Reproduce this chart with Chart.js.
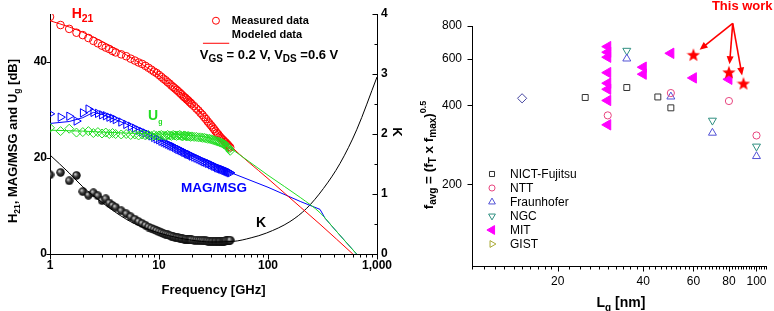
<!DOCTYPE html>
<html>
<head>
<meta charset="utf-8">
<script src="https://cdn.jsdelivr.net/npm/chart.js@4.4.1/dist/chart.umd.min.js"></script>
<style>
  html, body { margin: 0; padding: 0; background: #fff; }
  #wrap { position: relative; width: 774px; height: 311px; overflow: hidden; }
  canvas { position: absolute; top: 0; }
  #gain { left: 0; }
  #bench { left: 400px; }
</style>
</head>
<body>
<div id="wrap">
  <canvas id="gain" width="410" height="311"></canvas>
  <canvas id="bench" width="374" height="311"></canvas>
</div>
<script>
// ---- left panel: gains and K vs frequency ----
const freqMeas = [1,1.25,1.5,1.75,2,2.25,2.5,2.75,3,3.25,3.5,3.75,4,
  4.5,5,5.5,6,6.5,7,7.5,8,8.5,9,9.5,10,
  10.5,11,11.5,12,12.5,13,13.5,14,14.5,15,15.5,16,16.5,17,17.5,18,18.5,19,19.5,20,
  21,22,23,24,25,26,27,28,29,30,31,32,33,34,35,36,37,38,39,40,41,42,43,44,45];
const h21Meas = [49.4,47.7,46.9,46.1,45.6,45.0,44.4,43.9,43.4,43.0,42.7,42.3,42.0,
  41.6,41.2,40.7,40.3,39.9,39.6,39.2,38.8,38.4,38.0,37.7,37.3,
  36.9,36.5,36.2,35.8,35.5,35.1,34.8,34.5,34.2,33.9,33.6,33.3,33.0,32.7,32.5,32.2,32.0,31.7,31.5,31.2,
  30.8,30.3,29.9,29.4,29.0,28.5,28.1,27.6,27.2,26.8,26.4,26.0,25.6,25.2,24.9,24.5,24.2,23.9,23.7,23.4,23.2,22.9,22.7,22.4,22.2];
const magMeas = [29.2,28.5,28.7,27.7,29.4,30.2,29.5,29.3,29.0,28.8,28.5,28.3,28.0,
  27.5,27.0,26.6,26.2,25.8,25.5,25.2,24.9,24.6,24.3,24.0,23.8,
  23.5,23.3,23.1,22.9,22.7,22.5,22.4,22.2,22.0,21.8,21.7,21.5,21.4,21.2,21.1,20.9,20.8,20.7,20.6,20.4,
  20.2,20.0,19.8,19.6,19.4,19.2,19.1,18.9,18.8,18.6,18.5,18.3,18.2,18.0,17.9,17.8,17.7,17.6,17.5,17.4,17.3,17.2,17.1,17.0,16.9];
const ugMeas = [26.3,25.6,26.1,25.3,25.4,25.6,25.2,25.4,25.1,25.3,25.0,25.2,25.0,
  24.9,25.0,24.8,24.9,24.7,24.9,24.7,24.8,24.6,24.8,24.6,24.7,
  24.8,24.7,24.6,24.8,24.7,24.6,24.8,24.7,24.6,24.7,24.8,24.6,24.5,24.7,24.6,24.5,24.6,24.5,24.4,24.5,
  24.4,24.4,24.3,24.3,24.2,24.2,24.1,24.0,24.0,23.9,23.8,23.7,23.6,23.5,23.4,23.3,23.2,23.1,22.9,22.8,22.6,22.4,22.2,21.9,21.5];
const kMeas = [1.32,1.36,1.22,1.31,1.04,0.98,1.02,0.97,0.89,0.92,0.85,0.81,0.78,
  0.72,0.67,0.62,0.58,0.54,0.51,0.48,0.45,0.43,0.41,0.39,0.37,
  0.355,0.34,0.33,0.32,0.31,0.30,0.29,0.28,0.275,0.27,0.265,0.26,0.255,0.25,0.247,0.245,0.242,0.24,0.237,0.235,
  0.232,0.23,0.227,0.225,0.222,0.22,0.217,0.215,0.212,0.21,0.21,0.21,0.21,0.21,0.21,0.21,0.21,0.21,0.212,0.215,0.217,0.22,0.222,0.225,0.23];

const h21ModF = [1,1.5,2,3,5,7,10,15,20,30,45,100,200,300,600];
const h21Mod  = [48.6,47.3,46.2,44.3,41.5,39.5,37.2,34.0,31.4,27.0,22.6,15.7,9.7,6.2,0];
const magModF = [1,1.5,2,2.5,3,5,10,20,45,100,200,300,335,400,500,650];
const magMod  = [27.2,27.6,28.4,29.5,29.1,27.1,23.8,20.5,17.0,13.9,10.9,9.3,7.4,5.4,2.9,0];
const ugModF  = [1,2,3,5,10,20,30,40,45,100,200,300,400,500,650];
const ugMod   = [25.8,25.6,25.4,25.2,25.0,24.7,24.1,22.9,22.1,16.4,11.7,8.6,5.4,2.9,0];
const kModF   = [1,1.5,2,3,5,7,10,15,20,30,48,70,97,159,226,322,458,651,1000];
const kMod    = [1.65,1.35,1.12,0.86,0.58,0.45,0.35,0.27,0.23,0.2,0.21,0.27,0.35,0.54,0.76,1.09,1.51,2.07,2.95];

const freqMajor = [1, 10, 100, 1000];
const freqLabels = ['1', '10', '100', '1,000'];
const dbTicks = [0, 20, 40];
const kTicks = [0, 0.5, 1, 1.5, 2, 2.5, 3, 3.5, 4];
const kLabels = [0, 1, 2, 3, 4];

// ---- right panel: f_avg vs gate length ----
const nictL = [25, 35, 45, 50];
const nictF = [428, 467, 430, 391];
const nttL = [30, 50, 80, 100];
const nttF = [366, 445, 415, 307];
const fraunL = [35, 50, 70, 100];
const fraunF = [601, 431, 314, 256];
const ngcL = [35, 70, 100];
const ngcF = [645, 350, 279];
const mitL = [30, 30, 30, 30, 30, 30, 30, 30, 40, 40, 50, 60, 80];
const mitF = [668, 636, 609, 532, 485, 460, 417, 337, 558, 525, 630, 508, 502];
const gistL = [];
const gistF = [];
const otherL = [15];
const otherF = [425];
const thisWorkL = [60, 80, 90];
const thisWorkF = [622, 534, 484];
const favgTicks = [200, 400, 600, 800];
const lenLabels = [20, 40, 60, 80, 100];

const FONT = "'Liberation Sans', Arial, sans-serif";
Chart.defaults.font.family = FONT;
Chart.defaults.color = '#000';

const RED = '#ff0000', BLUE = '#0000ff', GREEN = '#22dd22';

function xy(xs, ys) { return xs.map((x, i) => ({ x: x, y: ys[i] })); }

function drawRich(ctx, parts, x, y, align, weight, color) {
  let w = 0;
  parts.forEach(p => { ctx.font = weight + ' ' + p[1] + 'px ' + FONT; w += ctx.measureText(p[0]).width; });
  let cx = align === 'center' ? x - w / 2 : x;
  ctx.fillStyle = color;
  ctx.textAlign = 'left';
  ctx.textBaseline = 'alphabetic';
  parts.forEach(p => {
    ctx.font = weight + ' ' + p[1] + 'px ' + FONT;
    ctx.fillText(p[0], cx, y + (p[2] || 0));
    cx += ctx.measureText(p[0]).width;
  });
}

function makeBall(d) {
  const c = document.createElement('canvas');
  c.width = c.height = d;
  const g = c.getContext('2d');
  const grad = g.createRadialGradient(d * 0.35, d * 0.35, 0.4, d / 2, d / 2, d / 2);
  grad.addColorStop(0, '#c8c8c8');
  grad.addColorStop(0.45, '#3a3a3a');
  grad.addColorStop(1, '#000');
  g.fillStyle = grad;
  g.beginPath(); g.arc(d / 2, d / 2, d / 2 - 0.3, 0, Math.PI * 2); g.fill();
  return c;
}

function makeStar(d, color) {
  const c = document.createElement('canvas');
  c.width = c.height = d;
  const g = c.getContext('2d');
  g.fillStyle = color;
  g.beginPath();
  for (let i = 0; i < 10; i++) {
    const r = i % 2 ? d * 0.21 : d / 2;
    const a = -Math.PI / 2 + i * Math.PI / 5;
    g.lineTo(d / 2 + r * Math.cos(a), d / 2 + 0.6 + r * Math.sin(a));
  }
  g.closePath(); g.fill();
  return c;
}

// draws own tick marks: long for majors, short for minors
const tickMarks = {
  id: 'tickMarks',
  afterDraw(chart, args, opts) {
    const ctx = chart.ctx;
    ctx.save();
    ctx.strokeStyle = '#000';
    ctx.lineWidth = 1;
    Object.keys(opts).forEach(id => {
      const s = chart.scales[id], o = opts[id];
      if (!s) return;
      s.ticks.forEach(t => {
        const len = o.major.includes(t.value) ? o.long : o.short;
        const p = Math.round(s.getPixelForValue(t.value)) + 0.5;
        ctx.beginPath();
        if (s.isHorizontal()) {
          const ay = Math.round(s.top) + 0.5;
          ctx.moveTo(p, ay); ctx.lineTo(p, ay + len * o.dir);
        } else {
          const ax = Math.round(s.position === 'left' ? s.right : s.left) + 0.5;
          ctx.moveTo(ax, p); ctx.lineTo(ax + len * o.dir, p);
        }
        ctx.stroke();
      });
    });
    ctx.restore();
  }
};

const freqTicks = [];
for (let d = 1; d < 1000; d *= 10) for (let m = 1; m < 10; m++) freqTicks.push(m * d);
freqTicks.push(1000);

const hidden = 'rgba(0,0,0,0)';
const ball = makeBall(9);

const gainLabels = {
  id: 'gainLabels',
  afterDraw(chart) {
    const ctx = chart.ctx, xs = chart.scales.x, ys = chart.scales.y, a = chart.chartArea;
    const P = (f, v) => [xs.getPixelForValue(f), ys.getPixelForValue(v)];
    ctx.save();
    let p = P(1.58, 49.2);
    drawRich(ctx, [['H', 14], ['21', 10.5, 4]], p[0], p[1], 'left', 'bold', RED);
    // legend
    p = P(33.3, 48.6);
    ctx.strokeStyle = RED; ctx.lineWidth = 1;
    ctx.beginPath(); ctx.arc(p[0], p[1], 3.5, 0, Math.PI * 2); ctx.stroke();
    const l1 = P(25.3, 43.9), l2 = P(44.1, 43.9);
    ctx.beginPath(); ctx.moveTo(l1[0], l1[1]); ctx.lineTo(l2[0], l2[1]); ctx.stroke();
    p = P(46.6, 47.9);
    drawRich(ctx, [['Measured data', 11]], p[0], p[1], 'left', 'bold', '#000');
    p = P(46.6, 45.0);
    drawRich(ctx, [['Modeled data', 11]], p[0], p[1], 'left', 'bold', '#000');
    p = P(23.7, 40.6);
    drawRich(ctx, [['V', 13], ['GS', 10, 3], [' = 0.2 V, V', 13], ['DS', 10, 3], [' =0.6 V', 13]], p[0], p[1], 'left', 'bold', '#000');
    p = P(7.93, 27.9);
    drawRich(ctx, [['U', 14], ['g', 7, 4]], p[0], p[1], 'left', 'bold', GREEN);
    p = P(15.9, 12.9);
    drawRich(ctx, [['MAG/MSG', 13.5]], p[0], p[1], 'left', 'bold', BLUE);
    p = P(77.7, 5.6);
    drawRich(ctx, [['K', 14]], p[0], p[1], 'left', 'bold', '#000');
    // axis titles
    drawRich(ctx, [['Frequency [GHz]', 13]], (a.left + a.right) / 2, 294, 'center', 'bold', '#000');
    ctx.save();
    ctx.translate(17, (a.top + a.bottom) / 2 + 7);
    ctx.rotate(-Math.PI / 2);
    drawRich(ctx, [['H', 13], ['21', 8.5, 3], [', MAG/MSG and U', 13], ['g', 8.5, 3], [' [dB]', 13]], 0, 0, 'center', 'bold', '#000');
    ctx.restore();
    ctx.save();
    ctx.translate(393, 132);
    ctx.rotate(Math.PI / 2);
    drawRich(ctx, [['K', 13]], 0, 0, 'center', 'bold', '#000');
    ctx.restore();
    ctx.restore();
  }
};

new Chart(document.getElementById('gain'), {
  type: 'scatter',
  data: {
    datasets: [
      { label: 'Ug meas', data: xy(freqMeas, ugMeas), pointStyle: 'rectRot', pointRadius: 4.5,
        borderColor: GREEN, backgroundColor: hidden, pointBorderWidth: 1 },
      { label: 'Ug model', data: xy(ugModF, ugMod), showLine: true, pointRadius: 0,
        borderColor: GREEN, borderWidth: 1, cubicInterpolationMode: 'monotone' },
      { label: 'H21 meas', data: xy(freqMeas, h21Meas), pointStyle: 'circle', pointRadius: 3.8,
        borderColor: RED, backgroundColor: hidden, pointBorderWidth: 1 },
      { label: 'H21 model', data: xy(h21ModF, h21Mod), showLine: true, pointRadius: 0,
        borderColor: RED, borderWidth: 1, cubicInterpolationMode: 'monotone' },
      { label: 'MAG model', data: xy(magModF, magMod), showLine: true, pointRadius: 0,
        borderColor: BLUE, borderWidth: 1, tension: 0 },
      { label: 'MAG meas', data: xy(freqMeas, magMeas), pointStyle: 'triangle', pointRotation: 90,
        pointRadius: 4.8, borderColor: BLUE, backgroundColor: hidden, pointBorderWidth: 1 },
      { label: 'K model', data: xy(kModF, kMod), yAxisID: 'yK', showLine: true, pointRadius: 0,
        borderColor: '#000', borderWidth: 1, cubicInterpolationMode: 'monotone' },
      { label: 'K meas', data: xy(freqMeas, kMeas), yAxisID: 'yK', pointStyle: ball, pointRadius: 4.5 }
    ]
  },
  options: {
    responsive: false,
    animation: false,
    devicePixelRatio: 1,
    layout: { padding: { top: 14, left: 0, right: 0, bottom: 0 } },
    plugins: {
      legend: { display: false },
      tooltip: { enabled: false },
      tickMarks: {
        x: { major: freqMajor, long: 5, short: 3, dir: 1 },
        y: { major: dbTicks, long: 4, short: 2, dir: -1 },
        yK: { major: kLabels, long: 5, short: 3, dir: -1 }
      }
    },
    scales: {
      x: {
        type: 'logarithmic', min: 1, max: 1000, position: 'bottom',
        afterBuildTicks: s => { s.ticks = freqTicks.map(v => ({ value: v })); },
        afterFit: s => { s.height = 57; },
        ticks: { autoSkip: false, maxRotation: 0, padding: 0, font: { size: 12, weight: 'bold' },
          callback: v => { const i = freqMajor.indexOf(v); return i < 0 ? '' : freqLabels[i]; } },
        grid: { display: true, drawOnChartArea: false, drawTicks: true, tickLength: 4, color: hidden },
        border: { display: true, color: '#000', width: 1 }
      },
      y: {
        type: 'linear', min: 0, max: 50, position: 'left',
        afterBuildTicks: s => { s.ticks = dbTicks.map(v => ({ value: v })); },
        afterFit: s => { s.width = 50; },
        ticks: { autoSkip: false, padding: 0, font: { size: 12, weight: 'bold' } },
        grid: { display: true, drawOnChartArea: false, drawTicks: true, tickLength: 3, color: hidden },
        border: { display: true, color: '#000', width: 1 }
      },
      yK: {
        type: 'linear', min: 0, max: 4, position: 'right',
        afterBuildTicks: s => { s.ticks = kTicks.map(v => ({ value: v })); },
        afterFit: s => { s.width = 33; },
        ticks: { autoSkip: false, padding: 4, font: { size: 12, weight: 'bold' },
          callback: v => kLabels.includes(v) ? String(v) : '' },
        grid: { display: true, drawOnChartArea: false, drawTicks: false, color: hidden },
        border: { display: true, color: '#000', width: 1 }
      }
    }
  },
  plugins: [tickMarks, gainLabels]
});

// ---- right chart ----
const lenTicks = [];
for (let v = 10; v < 20; v++) lenTicks.push(v);
for (let v = 20; v <= 108; v += 2) lenTicks.push(v);

const star = makeStar(14, RED);
const C_NICT = '#333333', C_NTT = '#e8457f', C_FRA = '#5252d6', C_NGC = '#2f8f80',
      C_MIT = '#ff00ff', C_GIST = '#a8a832', C_OTHER = '#4646a0';

const benchSets = [
  { label: 'This work', data: xy(thisWorkL, thisWorkF), pointStyle: star, pointRadius: 7, legend: false },
  { label: 'NICT-Fujitsu', data: xy(nictL, nictF), pointStyle: 'rect', pointRadius: 4.2,
    borderColor: C_NICT, backgroundColor: hidden, pointBorderWidth: 1, legend: true },
  { label: 'NTT', data: xy(nttL, nttF), pointStyle: 'circle', pointRadius: 3.6,
    borderColor: C_NTT, backgroundColor: hidden, pointBorderWidth: 1, legend: true },
  { label: 'Fraunhofer', data: xy(fraunL, fraunF), pointStyle: 'triangle', pointRadius: 4.6,
    borderColor: C_FRA, backgroundColor: hidden, pointBorderWidth: 1, legend: true },
  { label: 'NGC', data: xy(ngcL, ngcF), pointStyle: 'triangle', pointRotation: 180, pointRadius: 4.6,
    borderColor: C_NGC, backgroundColor: hidden, pointBorderWidth: 1, legend: true },
  { label: 'MIT', data: xy(mitL, mitF), pointStyle: 'triangle', pointRotation: -90, pointRadius: 6,
    borderColor: C_MIT, backgroundColor: C_MIT, pointBorderWidth: 1, legend: true },
  { label: 'GIST', data: xy(gistL, gistF), pointStyle: 'triangle', pointRotation: 90, pointRadius: 4.6,
    borderColor: C_GIST, backgroundColor: hidden, pointBorderWidth: 1, legend: true },
  { label: 'other', data: xy(otherL, otherF), pointStyle: 'rectRot', pointRadius: 4.6,
    borderColor: C_OTHER, backgroundColor: hidden, pointBorderWidth: 1, legend: false }
];

const benchLabels = {
  id: 'benchLabels',
  afterDraw(chart) {
    const ctx = chart.ctx, xs = chart.scales.x, ys = chart.scales.y, a = chart.chartArea;
    ctx.save();
    // legend inside plot
    let row = 0;
    chart.data.datasets.forEach(ds => {
      if (!ds.legend) return;
      const ly = a.top + 148 + row * 14;
      ctx.fillStyle = ds.backgroundColor;
      ctx.strokeStyle = ds.borderColor;
      ctx.lineWidth = 1;
      Chart.helpers.drawPoint(ctx, { pointStyle: ds.pointStyle, radius: ds.pointRadius * 0.85,
        rotation: ds.pointRotation || 0, borderWidth: 1 }, a.left + 20, ly);
      ctx.font = '12px ' + FONT;
      ctx.fillStyle = '#000';
      ctx.textAlign = 'left';
      ctx.textBaseline = 'middle';
      ctx.fillText(ds.label, a.left + 38, ly + 0.5);
      row++;
    });
    // "This work" callout with arrows
    drawRich(ctx, [['This work', 13]], xs.getPixelForValue(69.7), ys.getPixelForValue(919), 'left', 'bold', RED);
    const ox = xs.getPixelForValue(82.5), oy = ys.getPixelForValue(819);
    ctx.strokeStyle = RED; ctx.fillStyle = RED; ctx.lineWidth = 1.6;
    thisWorkL.forEach((l, i) => {
      const tx = xs.getPixelForValue(l), ty = ys.getPixelForValue(thisWorkF[i]);
      const dx = tx - ox, dy = ty - oy, d = Math.hypot(dx, dy), ux = dx / d, uy = dy / d;
      const ex = tx - ux * 8, ey = ty - uy * 8;
      ctx.beginPath(); ctx.moveTo(ox, oy); ctx.lineTo(ex - ux * 5, ey - uy * 5); ctx.stroke();
      ctx.beginPath();
      ctx.moveTo(ex, ey);
      ctx.lineTo(ex - ux * 8 - uy * 3.5, ey - uy * 8 + ux * 3.5);
      ctx.lineTo(ex - ux * 8 + uy * 3.5, ey - uy * 8 - ux * 3.5);
      ctx.closePath(); ctx.fill();
    });
    // axis titles
    drawRich(ctx, [['L', 14], ['g', 10, 4], [' [nm]', 14]], 221, 307, 'center', 'bold', '#000');
    ctx.save();
    ctx.translate(33, 155);
    ctx.rotate(-Math.PI / 2);
    drawRich(ctx, [['f', 13.5], ['avg', 10, 3], [' = (f', 13.5], ['T', 10, 3], [' x f', 13.5], ['max', 10, 3], [')', 13.5], ['0.5', 9, -7]],
      0, 0, 'center', 'bold', '#000');
    ctx.restore();
    ctx.restore();
  }
};

new Chart(document.getElementById('bench'), {
  type: 'scatter',
  data: { datasets: benchSets },
  options: {
    responsive: false,
    animation: false,
    devicePixelRatio: 1,
    layout: { padding: { top: 26, right: 6, left: 0, bottom: 0 } },
    plugins: {
      legend: { display: false },
      tooltip: { enabled: false },
      tickMarks: {
        x: { major: lenLabels, long: 5, short: 3, dir: 1 },
        y: { major: favgTicks, long: 5, short: 3, dir: -1 }
      }
    },
    scales: {
      x: {
        type: 'logarithmic', min: 10, max: 108, position: 'bottom',
        afterBuildTicks: s => { s.ticks = lenTicks.map(v => ({ value: v })); },
        afterFit: s => { s.height = 45; },
        ticks: { autoSkip: false, maxRotation: 0, padding: 3, font: { size: 12 },
          callback: v => lenLabels.includes(v) ? String(v) : '' },
        grid: { display: true, drawOnChartArea: false, drawTicks: true, tickLength: 5, color: hidden },
        border: { display: true, color: '#000', width: 1 }
      },
      y: {
        type: 'logarithmic', min: 98, max: 800, position: 'left',
        afterBuildTicks: s => { s.ticks = favgTicks.map(v => ({ value: v })); },
        afterFit: s => { s.width = 72; },
        ticks: { autoSkip: false, padding: 5, font: { size: 12 }, callback: v => String(v) },
        grid: { display: true, drawOnChartArea: false, drawTicks: true, tickLength: 5, color: hidden },
        border: { display: true, color: '#000', width: 1 }
      }
    }
  },
  plugins: [tickMarks, benchLabels]
});
</script>
</body>
</html>
